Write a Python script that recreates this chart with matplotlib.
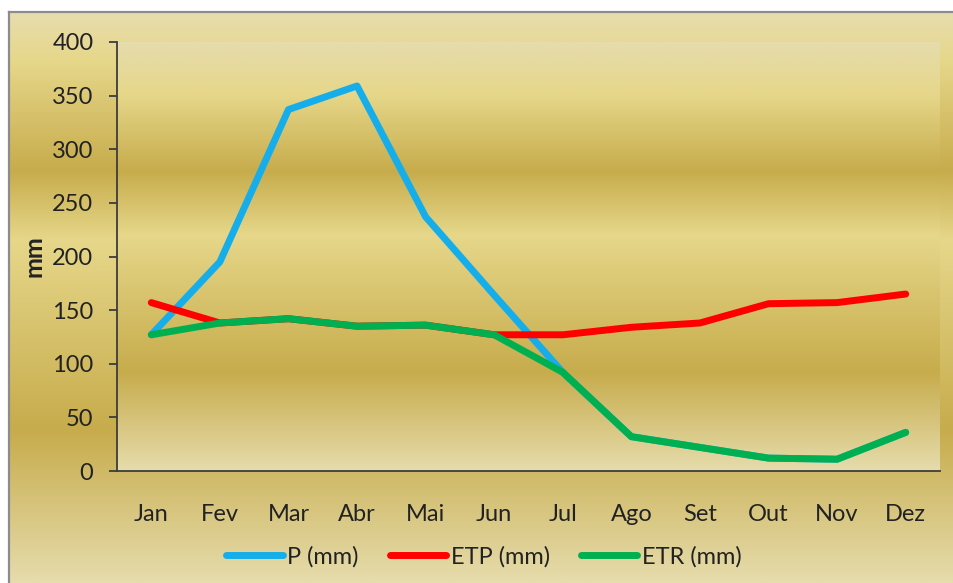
import numpy as np
import matplotlib as mpl
import matplotlib.pyplot as plt
from matplotlib.colors import LinearSegmentedColormap
from matplotlib.lines import Line2D

# data
months = ['Jan', 'Fev', 'Mar', 'Abr', 'Mai', 'Jun',
          'Jul', 'Ago', 'Set', 'Out', 'Nov', 'Dez']
p_mm = [127, 195, 337, 359, 237, 164, 92, 32, 22, 12, 11, 36]
etp_mm = [157, 138, 142, 135, 136, 127, 127, 134, 138, 156, 157, 165]
etr_mm = [127, 138, 142, 135, 136, 127, 92, 32, 22, 12, 11, 36]

series = [('P (mm)', p_mm, '#16AEEA'),
          ('ETP (mm)', etp_mm, '#FF0000'),
          ('ETR (mm)', etr_mm, '#00B050')]

mpl.rcParams['font.family'] = ['Lato', 'DejaVu Sans']
txt = '#222222'
W, H = 954, 583

def gradient(stops):
    ''' vertical gradient image from (pos, colour) stops, top -> bottom. '''
    cm = LinearSegmentedColormap.from_list('g', stops)
    return cm(np.linspace(0, 1, 256))[:, None, :]

fig = plt.figure(figsize=(W / 100, H / 100), dpi=100)
fig.patch.set_facecolor('white')

# chart area background
top_px = 12
bg = fig.add_axes([9 / W, 0, 1 - 9 / W, (H - top_px) / H])
ch = H - top_px
bg.imshow(gradient([(0, '#E8DDAE'), ((60 - 12) / ch, '#E6D78A'),
                    ((170 - 12) / ch, '#C7AC4C'), ((240 - 12) / ch, '#E6D78A'),
                    ((430 - 12) / ch, '#C7AC4C'), (1, '#E6DCAC')]),
          aspect='auto', extent=[0, 1, 0, 1], transform=bg.transAxes)
bg.set_axis_off()
fig.add_artist(Line2D([9 / W, 1], [1 - top_px / H] * 2, color='#8C8C8C', lw=1.6))
fig.add_artist(Line2D([9 / W] * 2, [0, 1 - top_px / H], color='#8C8C8C', lw=1.6))

# plot area
left, right, ytop, ybot = 117, 940, 42, 471
ax = fig.add_axes([left / W, (H - ybot) / H, (right - left) / W, (ybot - ytop) / H])
ax.imshow(gradient([(0, '#E6DCAC'), (0.12, '#E6D78A'), (0.30, '#C7AC4C'),
                    (0.45, '#E6D78A'), (0.77, '#C7AC4C'), (1, '#E6DCAC')]),
          aspect='auto', extent=[0, 1, 0, 1], transform=ax.transAxes, zorder=0)

xs = np.arange(len(months))
for name, vals, col in series:
    ax.plot(xs, vals, color=col, lw=5, solid_capstyle='round',
            solid_joinstyle='round', label=name, zorder=3)

ax.set_xlim(-0.5, 11.5)
ax.set_ylim(0, 400)
ax.set_yticks(range(0, 401, 50))
ax.set_xticks(xs)
ax.set_xticklabels(months)
for s in ['top', 'right']:
    ax.spines[s].set_visible(False)
for s in ['left', 'bottom']:
    ax.spines[s].set_color('#3C3C3C')
    ax.spines[s].set_linewidth(1.3)
ax.tick_params(axis='y', direction='out', length=6, width=1.3, color='#3C3C3C',
               pad=11, labelsize=17, labelcolor=txt)
ax.tick_params(axis='x', length=0, pad=24, labelsize=17, labelcolor=txt)

# y label
fig.text(34 / W, 1 - 256 / H, 'mm', rotation=90, ha='center', va='center',
         fontsize=18, fontweight='bold', color=txt)

# legend
handles = [Line2D([], [], color=c, lw=5, solid_capstyle='round') for _, _, c in series]
leg = fig.legend(handles, [n for n, _, _ in series], loc='center',
                 bbox_to_anchor=(484 / W, 1 - 557 / H), ncol=3, frameon=False,
                 fontsize=17, handlelength=2.4, handletextpad=0.2,
                 columnspacing=1.3, labelcolor=txt)

fig.savefig('out.png', dpi=100, facecolor='white')
